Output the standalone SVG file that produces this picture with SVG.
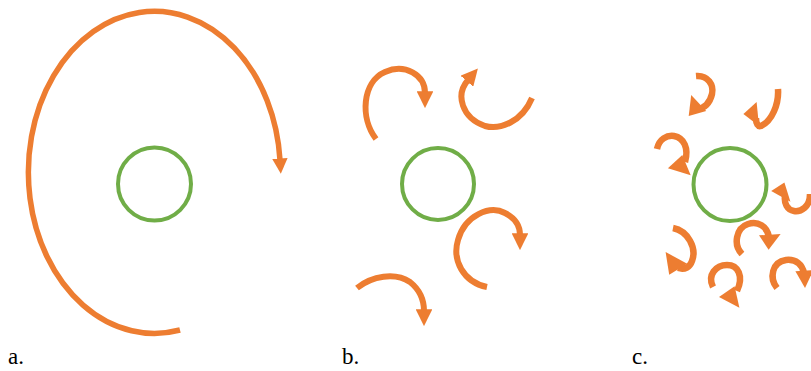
<svg xmlns="http://www.w3.org/2000/svg" width="811" height="371" viewBox="0 0 811 371">
  <style>
    .core { fill: none; stroke: #70AD47; stroke-width: 4; }
    .flow { fill: none; stroke: #ED7D31; stroke-width: 5.5; }
    .mid { fill: none; stroke: #ED7D31; stroke-width: 6; }
    .small { fill: none; stroke: #ED7D31; stroke-width: 6.5; }
    .head { fill: #ED7D31; stroke: none; }
    .label { font-family: "Liberation Serif", "Times New Roman", serif; font-size: 23px; fill: #000; }
  </style>
  <defs>
    <marker id="arrow" viewBox="0 0 10 10" refX="1" refY="5" markerWidth="2.8" markerHeight="2.8" orient="auto">
      <path d="M0,0 L10,5 L0,10 z" fill="#ED7D31"/>
    </marker>
  </defs>
  <rect width="811" height="371" fill="#fff"/>

  <g id="node-a">
    <circle class="core" cx="154.5" cy="184" r="36.5"/>
  </g>
  <g id="node-b">
    <circle class="core" cx="438" cy="184" r="36"/>
  </g>
  <g id="node-c">
    <circle class="core" cx="730" cy="184.5" r="36.5"/>
  </g>

  <g id="connectors">
    <!-- panel a -->
    <path class="flow" marker-end="url(#arrow)" d="M180,330 A126 161 0 1 1 280,160"/>
    <!-- panel b -->
    <path class="mid" marker-end="url(#arrow)" d="M376,139 C360,118 362,82 385,72 C405,63 425,75 425,93"/>
    <path class="mid" marker-end="url(#arrow)" d="M532,98 C522,122 500,130 485,126 C462,118 455,95 468,80"/>
    <path class="mid" marker-end="url(#arrow)" d="M487,287 C463,282 452,260 458,240 C465,215 490,205 505,213 C515,218 520,226 520,235"/>
    <path class="mid" marker-end="url(#arrow)" d="M357,288 C372,276 395,272 410,282 C420,290 424,300 424,311"/>
    <!-- panel c -->
    <path class="small" d="M696,76 C708,75 714,85 712,94 C710,103 704,109 697,109"/>
    <polygon class="head" points="691.2,95.1 688.7,116.1 706.2,111.1"/>
    <path class="small" d="M778,89 C779,104 772,121 761,126 C758,127 756,124 756,118"/>
    <polygon class="head" points="743.4,114 756.6,102 759,126"/>
    <path class="small" d="M657,149 C659,139 667,135 674,136 C684,138 689,148 685,162"/>
    <polygon class="head" points="667.9,168.3 682.3,154.9 690.7,175.3"/>
    <path class="small" d="M810,194 C810,207 801,212 794,211 C787,210 784,203 785,196"/>
    <polygon class="head" points="771.2,190.9 784.4,182.5 790.4,201.7"/>
    <path class="small" d="M673,228 C688,231 697,248 692,261 C690,267 685,270 678,268"/>
    <polygon class="head" points="665.6,252 669.2,274.8 687.2,263.7"/>
    <path class="small" d="M713,287 C707,275 716,265 727,265 C738,265 744,276 737,291"/>
    <polygon class="head" points="719,297 734.6,286.2 739.4,307.8"/>
    <path class="small" d="M742,254 C733,245 736,228 748,224 C758,221 767,226 769,237"/>
    <polygon class="head" points="768.6,249.7 759,235.3 780.6,234.1"/>
    <path class="small" d="M777,288 C769,278 772,262 786,260 C796,259 802,264 804,273"/>
    <polygon class="head" points="805,288 795.4,271.2 813.4,270"/>
  </g>

  <g id="labels">
    <text class="label" x="8" y="364">a.</text>
    <text class="label" x="342" y="364">b.</text>
    <text class="label" x="632" y="364">c.</text>
  </g>
</svg>
